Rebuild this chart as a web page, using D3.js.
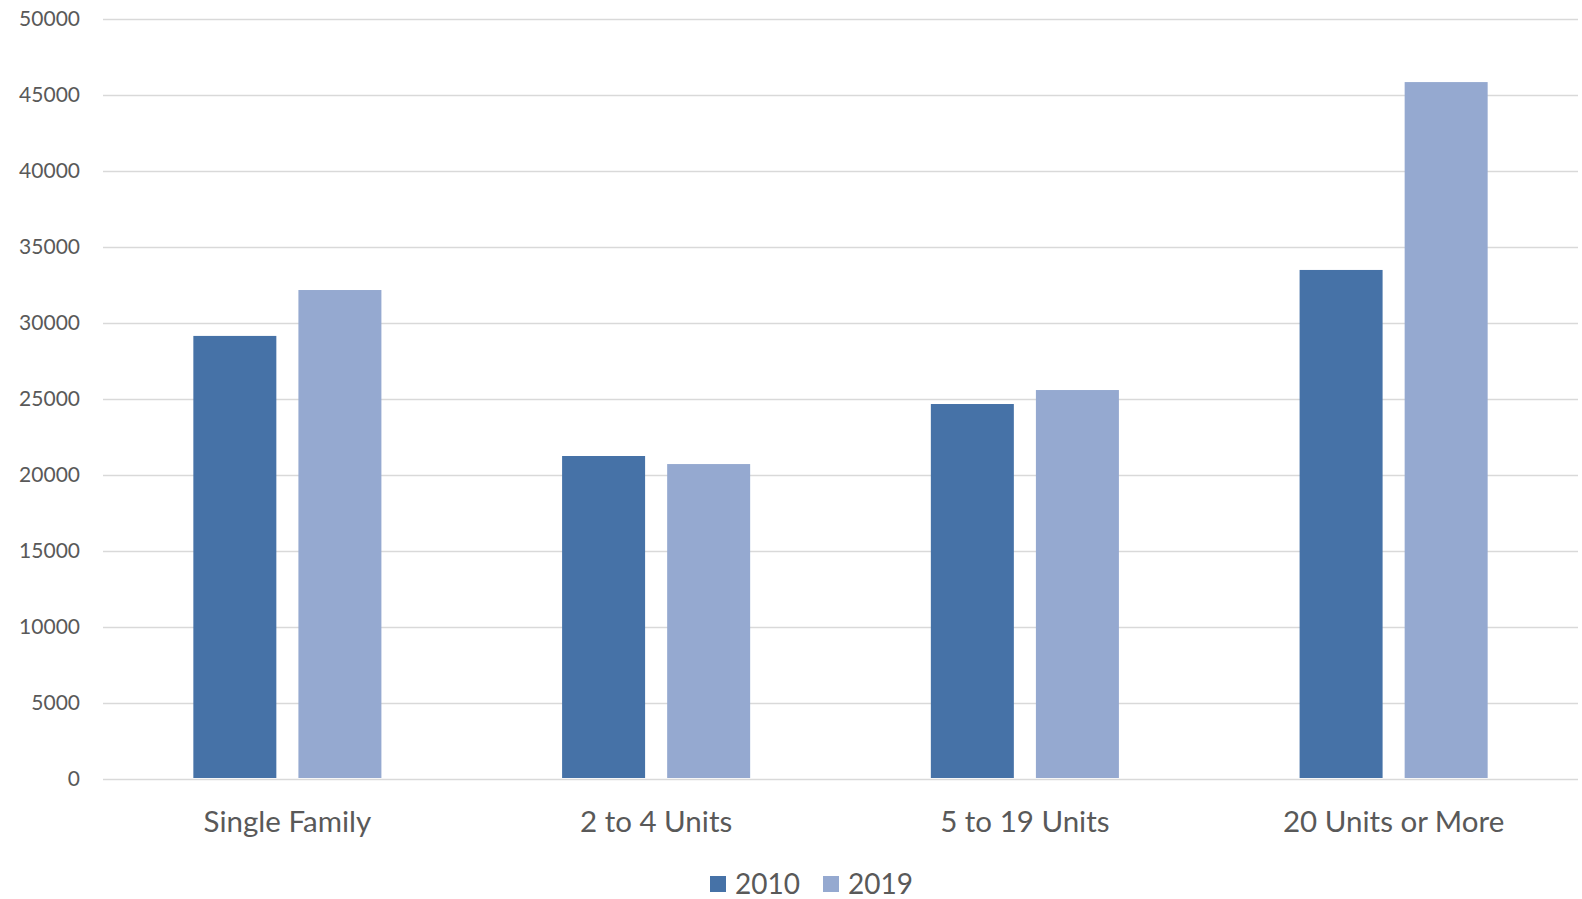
<!DOCTYPE html>
<html>
<head>
<meta charset="utf-8">
<script src="https://cdn.jsdelivr.net/npm/d3@7"></script>
<style>
  html, body { margin: 0; padding: 0; background: #ffffff; }
  svg { display: block; font-family: Lato, "Open Sans", sans-serif; }
</style>
</head>
<body>
<svg id="chart" width="1582" height="899"></svg>
<script>
// Housing units by structure type
const categories = ["Single Family", "2 to 4 Units", "5 to 19 Units", "20 Units or More"];
const seriesNames = ["2010", "2019"];
const values2010 = [29150, 21250, 24670, 33490];
const values2019 = [32170, 20720, 25590, 45850];
const yTicks = [0, 5000, 10000, 15000, 20000, 25000, 30000, 35000, 40000, 45000, 50000];
const colors = ["#4672a7", "#95a9d0"];

const W = 1582, H = 899;
const margin = { left: 103, right: 4, top: 19, bottom: 120 };
const plotRight = W - margin.right;
const plotBottom = H - margin.bottom;

const svg = d3.select("#chart");

const y = d3.scaleLinear().domain([0, 50000]).range([plotBottom, margin.top]);

const x0 = d3.scaleBand()
  .domain(categories)
  .range([margin.left, plotRight])
  .paddingInner(0.49)
  .paddingOuter(0.245);

const x1 = d3.scaleBand()
  .domain(seriesNames)
  .range([0, x0.bandwidth()])
  .paddingInner(0.21)
  .paddingOuter(0);

// Horizontal gridlines with value labels
const yAxis = d3.axisLeft(y)
  .tickValues(yTicks)
  .tickSize(-(plotRight - margin.left))
  .tickPadding(23)
  .tickFormat(d3.format("d"));

const gy = svg.append("g")
  .attr("transform", `translate(${margin.left},0)`)
  .call(yAxis);
gy.select(".domain").remove();
gy.selectAll(".tick line").attr("stroke", "#d9d9d9").attr("stroke-width", 1.5);
gy.selectAll(".tick text")
  .attr("fill", "#595959")
  .attr("font-size", 21)
  .attr("font-family", "Lato, 'Open Sans', sans-serif");

// Bars
const rows = categories.map((c, i) => ({ category: c, vals: [values2010[i], values2019[i]] }));

const groups = svg.append("g").selectAll("g")
  .data(rows)
  .join("g")
  .attr("transform", d => `translate(${x0(d.category)},0)`);

groups.selectAll("rect")
  .data(d => d.vals.map((v, j) => ({ key: seriesNames[j], value: v, j })))
  .join("rect")
  .attr("x", d => x1(d.key))
  .attr("width", x1.bandwidth())
  .attr("y", d => y(d.value))
  .attr("height", d => y(0) - y(d.value) - 1)
  .attr("fill", d => colors[d.j]);

// Category labels
const xAxis = d3.axisBottom(x0).tickSize(0).tickPadding(32);
const gx = svg.append("g")
  .attr("transform", `translate(0,${plotBottom})`)
  .call(xAxis);
gx.select(".domain").remove();
gx.selectAll(".tick text")
  .attr("fill", "#595959")
  .attr("font-size", 29.5)
  .attr("font-family", "Lato, 'Open Sans', sans-serif");

// Legend
const legend = svg.append("g").attr("transform", "translate(710,876)");
const legendX = [0, 113];
seriesNames.forEach((name, i) => {
  const g = legend.append("g").attr("transform", `translate(${legendX[i]},0)`);
  g.append("rect").attr("width", 16).attr("height", 16).attr("fill", colors[i]);
  g.append("text")
    .attr("x", 25)
    .attr("y", 18)
    .attr("fill", "#595959")
    .attr("font-size", 28)
    .attr("font-family", "Lato, 'Open Sans', sans-serif")
    .text(name);
});
</script>
</body>
</html>
